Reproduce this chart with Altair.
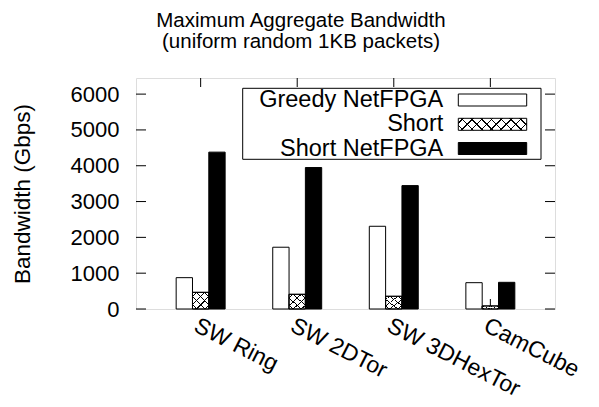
import altair as alt
import pandas as pd

categories = ["SW Ring", "SW 2DTor", "SW 3DHexTor", "CamCube"]
series_names = ["Greedy NetFPGA", "Short", "Short NetFPGA"]
greedy_netfpga = [875, 1725, 2310, 735]
short = [465, 410, 355, 85]
short_netfpga = [4380, 3950, 3445, 745]
y_ticks = [0, 1000, 2000, 3000, 4000, 5000, 6000]
title_lines = ["Maximum Aggregate Bandwidth", "(uniform random 1KB packets)"]
y_title = "Bandwidth (Gbps)"

rows = []
for s, vals in zip(series_names, [greedy_netfpga, short, short_netfpga]):
    for c, v in zip(categories, vals):
        rows.append({"category": c, "series": s, "value": v})
df = pd.DataFrame(rows)
cat_df = pd.DataFrame({"category": categories})
tick_df = pd.DataFrame({"value": y_ticks})
one = pd.DataFrame({"k": [0]})

W, H = 419, 231
FONT = "Liberation Sans"
CLEAR = "rgba(0,0,0,0)"


def hatch(x1, y1, x2, y2, centers, half):
    stops = [alt.GradientStop(offset=0, color=CLEAR)]
    for c in centers:
        stops += [
            alt.GradientStop(offset=c - half, color=CLEAR),
            alt.GradientStop(offset=c - half, color="black"),
            alt.GradientStop(offset=c + half, color="black"),
            alt.GradientStop(offset=c + half, color=CLEAR),
        ]
    stops.append(alt.GradientStop(offset=1, color=CLEAR))
    return alt.LinearGradient(gradient="linear", stops=stops, x1=x1, y1=y1, x2=x2, y2=y2)


bar_centers = [0.125, 0.375, 0.625, 0.875]
hatch_a = hatch(0, 0, 1, 1, bar_centers, 0.018)
hatch_b = hatch(1, 0, 0, 1, bar_centers, 0.018)
sw_centers = [0.06 + k * 0.1153 for k in range(8)]
sw_a = hatch(0, 0, 1.2, 0.2118, sw_centers, 0.009)
sw_b = hatch(0, 1, 1.2, 1 - 0.2118, sw_centers, 0.009)

x_scale = alt.Scale(domain=categories, paddingInner=0.493, paddingOuter=0.416)
x_axis = alt.Axis(title=None, labelAngle=27, labelAlign="left", labelBaseline="top",
                  labelPadding=5, ticks=False, domain=False, grid=False,
                  labelFont=FONT, labelFontSize=23, labelColor="black")
y_scale = alt.Scale(domain=[0, 6450], nice=False, zero=True)
y_axis = alt.Axis(values=y_ticks, format="d", title=y_title, ticks=False, tickSize=0,
                  domain=False, grid=False, labelPadding=17, labelFont=FONT,
                  labelFontSize=22, labelColor="black", titleFont=FONT,
                  titleFontSize=22.5, titleFontWeight="normal", titleColor="black",
                  titlePadding=36)

X = alt.X("category:N", sort=categories, scale=x_scale, axis=x_axis)
Y = alt.Y("value:Q", scale=y_scale, axis=y_axis)
XO = alt.XOffset("series:N", scale=alt.Scale(domain=series_names))

bottom_ticks = alt.Chart(cat_df).mark_rule(color="black", strokeWidth=1).encode(
    x=X, y=alt.value(H - 10), y2=alt.value(H))
top_ticks = alt.Chart(cat_df).mark_rule(color="black", strokeWidth=1).encode(
    x=X, y=alt.value(0), y2=alt.value(9))
left_ticks = alt.Chart(tick_df).mark_rule(color="black", strokeWidth=1).encode(
    y=Y, x=alt.value(0), x2=alt.value(10))
right_ticks = alt.Chart(tick_df).mark_rule(color="black", strokeWidth=1).encode(
    y=Y, x=alt.value(W - 10), x2=alt.value(W))

bars = alt.Chart(df).mark_bar(stroke="black", strokeWidth=1).encode(
    x=X, xOffset=XO, y=Y,
    fill=alt.Fill("series:N", scale=alt.Scale(domain=series_names, range=["white", "white", "black"]), legend=None))
short_df = df[df.series == "Short"]
hatch1 = alt.Chart(short_df).mark_bar(fill=hatch_a, strokeWidth=0).encode(x=X, xOffset=XO, y=Y)
hatch2 = alt.Chart(short_df).mark_bar(fill=hatch_b, strokeWidth=0).encode(x=X, xOffset=XO, y=Y)
outline = alt.Chart(short_df).mark_bar(fill=CLEAR, stroke="black", strokeWidth=1).encode(x=X, xOffset=XO, y=Y)

# legend (drawn manually, gnuplot style: label left of swatch)
LX0, LX1, LY0, LY1 = 106.7, 405, 10.3, 81.3
frame = alt.Chart(one).mark_rect(fill="white", stroke="black", strokeWidth=1).encode(
    x=alt.value(LX0), x2=alt.value(LX1), y=alt.value(LY0), y2=alt.value(LY1))
legend_layers = [frame]
row_y = [22, 46.3, 70.5]
fills = ["white", None, "black"]
for name, cy, f in zip(series_names, row_y, fills):
    legend_layers.append(alt.Chart(one).mark_text(
        align="right", baseline="middle", font=FONT, fontSize=23.5, color="black").encode(
        text=alt.value(name), x=alt.value(307.3), y=alt.value(cy)))
    pos = dict(x=alt.value(322.3), x2=alt.value(390.7), y=alt.value(cy - 6), y2=alt.value(cy + 6))
    if f is None:
        legend_layers.append(alt.Chart(one).mark_rect(fill="white").encode(**pos))
        legend_layers.append(alt.Chart(one).mark_rect(fill=sw_a).encode(**pos))
        legend_layers.append(alt.Chart(one).mark_rect(fill=sw_b).encode(**pos))
        legend_layers.append(alt.Chart(one).mark_rect(fill=CLEAR, stroke="black", strokeWidth=1).encode(**pos))
    else:
        legend_layers.append(alt.Chart(one).mark_rect(fill=f, stroke="black", strokeWidth=1).encode(**pos))

chart = alt.layer(
    bottom_ticks, bars, hatch1, hatch2, outline, top_ticks, left_ticks, right_ticks, *legend_layers
).properties(
    width=W, height=H,
    title=alt.TitleParams(text=title_lines, font=FONT, fontSize=20.5, fontWeight="normal",
                          color="black", anchor="middle", dx=-44.5, offset=25, lineHeight=21),
    autosize=alt.AutoSizeParams(type="none"),
    padding={"left": 128, "top": 70, "right": 36, "bottom": 91},
).configure_view(stroke="black", strokeWidth=1).configure(background="white")

chart.save("out.html", embed_options={"renderer": "svg", "actions": False})
